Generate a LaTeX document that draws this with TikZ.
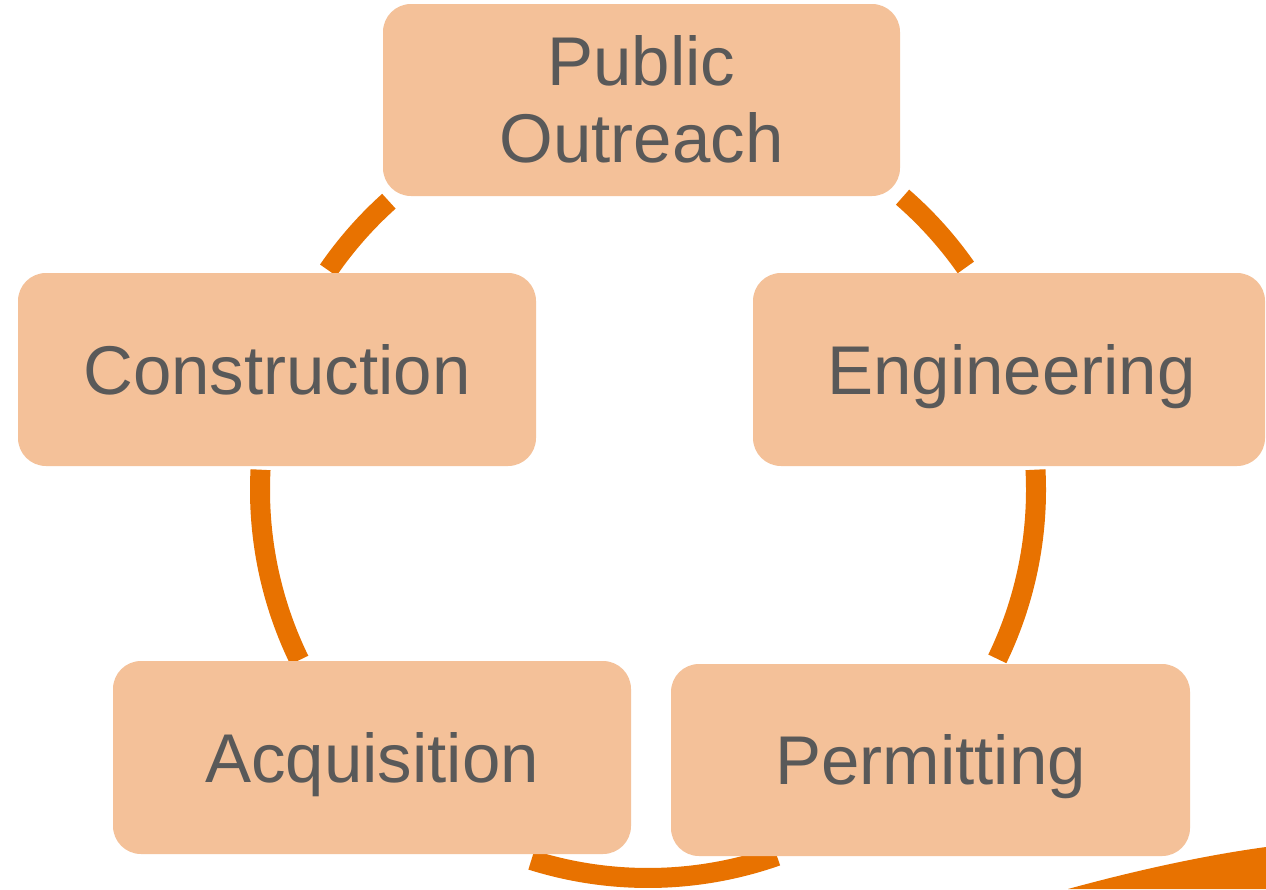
\documentclass[tikz,border=0pt]{standalone}
\usepackage{fontspec}
\setmainfont{Liberation Sans}
\definecolor{boxfill}{HTML}{F4C199}
\definecolor{txt}{HTML}{595959}
\definecolor{orng}{HTML}{E87200}
\begin{document}
\begin{tikzpicture}[x=1pt,y=1pt,
  stage/.style={rectangle, rounded corners=28pt, fill=boxfill, draw=none, inner sep=0pt,
    minimum height=193pt, text=txt, font=\fontsize{69}{77}\selectfont,
    text height=49pt, text depth=0pt, align=center},
  arcline/.style={draw=orng, line width=20pt, line cap=butt}]
\useasboundingbox (0,0) rectangle (1266,-889);
\fill[white] (0,0) rectangle (1266,-889);
\coordinate (c) at (648,-490);
% arcs
\draw[arcline] ([shift={(c)}]131.9:388) arc[start angle=131.9, end angle=145.5, radius=388];
\draw[arcline] ([shift={(c)}]49:388) arc[start angle=49, end angle=35, radius=388];
\draw[arcline] ([shift={(c)}]3:388) arc[start angle=3, end angle=-25.8, radius=388];
\draw[arcline] ([shift={(c)}]177:388) arc[start angle=177, end angle=206, radius=388];
\draw[arcline] ([shift={(c)}]252.5:388) arc[start angle=252.5, end angle=289.4, radius=388];
% boxes
\node[stage, minimum width=517pt, minimum height=192pt, text height=125pt] (pub) at (641.5,-100) {Public\\Outreach};
\node[stage, minimum width=518pt] (con) at (277,-369.5) {Construction};
\node[stage, minimum width=512pt] (eng) at (1009,-369.5) {\hspace*{5pt}Engineering};
\node[stage, minimum width=518pt] (acq) at (372,-757.5) {Acquisition};
\node[stage, minimum width=519pt, minimum height=192pt] (per) at (930.5,-760) {Permitting};
% swoosh
\fill[orng] (1068,-889) .. controls (1130,-872) and (1200,-856) .. (1266,-847) -- (1266,-889) -- cycle;
\end{tikzpicture}
\end{document}
